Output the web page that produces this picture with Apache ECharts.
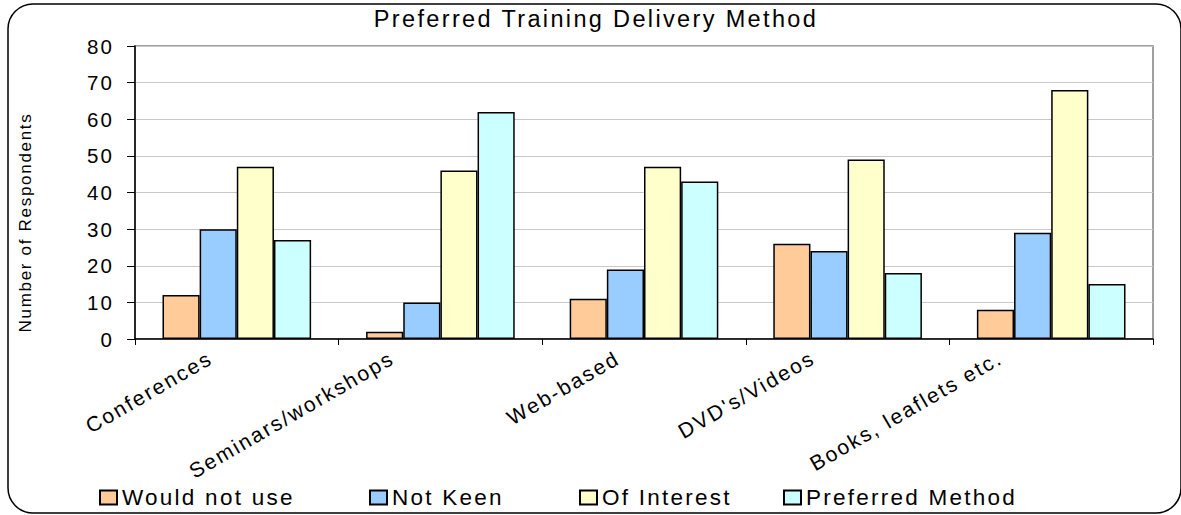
<!DOCTYPE html>
<html>
<head>
<meta charset="utf-8">
<script src="https://cdn.jsdelivr.net/npm/echarts@6/dist/echarts.min.js"></script>
<style>
html, body { margin: 0; padding: 0; background: #fff; }
#chart { width: 1181px; height: 515px; }
#chart text { letter-spacing: 0.1em; }
</style>
</head>
<body>
<div id="chart"></div>
<script>
// ---- data ----
const categories = ['Conferences', 'Seminars/workshops', 'Web-based', "DVD's/Videos", 'Books, leaflets etc.'];
const seriesNames = ['Would not use', 'Not Keen', 'Of Interest', 'Preferred Method'];
const wouldNotUse = [12, 2, 11, 26, 8];
const notKeen = [30, 10, 19, 24, 29];
const ofInterest = [47, 46, 47, 49, 68];
const preferredMethod = [27, 62, 43, 18, 15];
const yTicks = [0, 10, 20, 30, 40, 50, 60, 70, 80];

// ---- styles ----
const FONT = '"Liberation Sans", Arial, Helvetica, sans-serif';
const colors = ['#FFCC99', '#99CCFF', '#FFFFCC', '#CCFFFF'];
const labelShift = [26, 48, 26, 35, 51];
const legendLeft = [99, 369, 579, 783];

const rich = {};
labelShift.forEach(function (h, i) {
  rich['c' + i] = {
    align: 'right', fontSize: 21, fontFamily: FONT, color: '#000',
    padding: [0, Math.round(0.866 * h), h, 0]
  };
});

const valueSets = [wouldNotUse, notKeen, ofInterest, preferredMethod];
const series = seriesNames.map(function (name, i) {
  return {
    name: name,
    type: 'bar',
    data: valueSets[i],
    barGap: '0%',
    barCategoryGap: '27%',
    itemStyle: { color: colors[i], borderColor: '#000', borderWidth: 1.5 },
    emphasis: { disabled: true }
  };
});

const legends = seriesNames.map(function (name, i) {
  return {
    data: [name],
    left: legendLeft[i],
    top: 486,
    padding: 0,
    itemWidth: 17,
    itemHeight: 14,
    icon: 'rect',
    selectedMode: false,
    textStyle: { fontSize: 22.5, fontFamily: FONT, color: '#000' }
  };
});

const chart = echarts.init(document.getElementById('chart'), null, { renderer: 'svg', width: 1181, height: 515 });
chart.setOption({
  animation: false,
  backgroundColor: '#fff',
  title: {
    text: 'Preferred Training Delivery Method',
    left: 596,
    top: 7,
    padding: 0,
    textAlign: 'center',
    textStyle: { fontSize: 23.5, fontWeight: 'normal', fontFamily: FONT, color: '#000' }
  },
  legend: legends,
  grid: {
    left: 135, right: 28, top: 46, bottom: 176,
    show: true, borderColor: '#808080', borderWidth: 1.5,
    containLabel: false
  },
  xAxis: {
    type: 'category',
    data: categories,
    axisLine: { lineStyle: { color: '#000', width: 1.5 } },
    axisTick: { show: true, length: 6, lineStyle: { color: '#000', width: 1 } },
    axisLabel: {
      interval: 0,
      rotate: 30,
      margin: 17,
      fontSize: 21,
      fontFamily: FONT,
      color: '#000',
      formatter: function (value, idx) { return '{c' + idx + '|' + value + '}'; },
      rich: rich
    },
    splitLine: { show: false }
  },
  yAxis: {
    type: 'value',
    min: yTicks[0],
    max: yTicks[yTicks.length - 1],
    interval: yTicks[1] - yTicks[0],
    name: 'Number of Respondents',
    nameLocation: 'middle',
    nameRotate: 90,
    nameGap: 101,
    nameTextStyle: { fontSize: 17, fontFamily: FONT, color: '#000', padding: [0, 60, 0, 0] },
    axisLine: { show: true, lineStyle: { color: '#000', width: 1.5 } },
    axisTick: { show: true, length: 8, lineStyle: { color: '#000', width: 1 } },
    axisLabel: { margin: 21, fontSize: 20.5, fontFamily: FONT, color: '#000' },
    splitLine: { show: true, lineStyle: { color: '#c8c8c8', width: 1 } }
  },
  series: series,
  graphic: [{
    type: 'rect',
    shape: { x: 8, y: 4, width: 1173, height: 509, r: 25 },
    style: { fill: 'none', stroke: '#000', lineWidth: 1.5 },
    silent: true,
    z: 100
  }]
});
</script>
</body>
</html>
